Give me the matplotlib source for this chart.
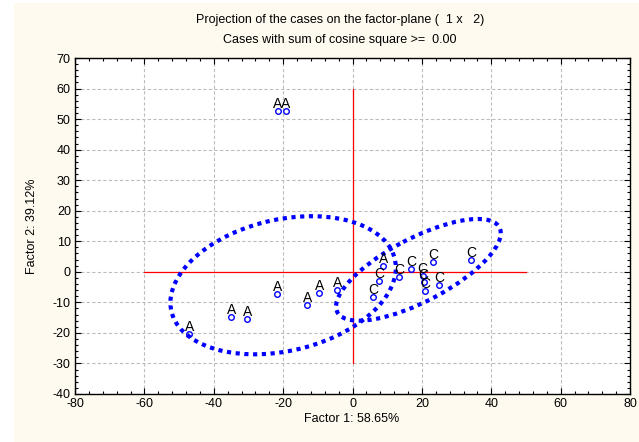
import numpy as np
import matplotlib
matplotlib.use("Agg")
import matplotlib.pyplot as plt
from matplotlib.patches import Ellipse, Rectangle
from matplotlib.ticker import MultipleLocator

plt.rcParams['font.family'] = ['Liberation Sans', 'DejaVu Sans']
plt.rcParams['axes.unicode_minus'] = False

# case coordinates on factor 1 / factor 2
a_x = [-21.5, -19.2, -47.0, -34.9, -30.3, -21.7, -13.0, -9.6, -4.4, 8.9]
a_y = [52.5, 52.5, -20.5, -14.7, -15.4, -7.4, -10.8, -6.8, -6.1, 1.9]
c_x = [7.7, 6.0, 13.5, 16.9, 23.2, 20.2, 20.5, 21.0, 24.9, 34.1]
c_y = [-2.9, -8.2, -1.6, 1.0, 3.1, -1.4, -3.4, -6.2, -4.2, 3.8]

# group ellipses: centre and covariance matrix
ell_a_center = (-20.0, -4.4)
ell_a_cov = [[1056.0, 185.0], [185.0, 511.0]]
ell_c_center = (19.0, 0.65)
ell_c_cov = [[564.0, 285.0], [285.0, 277.0]]

title1 = "Projection of the cases on the factor-plane (  1 x   2)"
title2 = "Cases with sum of cosine square >=  0.00"
xlabel = "Factor 1: 58.65%"
ylabel = "Factor 2: 39.12%"

W, H = 639, 442
fig = plt.figure(figsize=(W / 100, H / 100), dpi=100, facecolor='white')
fig.patches.append(Rectangle((14 / W, 0), 1 - 14 / W, 1 - 3 / H,
                             transform=fig.transFigure, facecolor='#FEFAEF',
                             edgecolor='none', zorder=-10))

ax = fig.add_axes([75 / W, 1 - 394 / H, (630 - 75) / W, (394 - 58) / H])
ax.set_facecolor('white')
ax.set_xlim(-80, 80)
ax.set_ylim(-40, 70)
ax.xaxis.set_major_locator(MultipleLocator(20))
ax.xaxis.set_minor_locator(MultipleLocator(4))
ax.yaxis.set_major_locator(MultipleLocator(10))
ax.yaxis.set_minor_locator(MultipleLocator(2))
ax.tick_params(which='both', direction='in', top=True, right=True,
               labelsize=9, width=0.8)
ax.tick_params(which='major', length=4, pad=3)
ax.tick_params(which='minor', length=2.5)
for s in ax.spines.values():
    s.set_linewidth(1.0)
ax.grid(True, which='major', color='#bdbdbd', linestyle=(0, (3, 2)),
        linewidth=0.8)
ax.set_axisbelow(True)

# origin cross
ax.plot([-60, 50], [0, 0], color='red', lw=0.9, zorder=2)
ax.plot([0, 0], [-30, 60], color='red', lw=0.9, zorder=2)


def add_ellipse(center, cov):
    vals, vecs = np.linalg.eigh(np.array(cov))
    order = vals.argsort()[::-1]
    vals, vecs = vals[order], vecs[:, order]
    angle = np.degrees(np.arctan2(vecs[1, 0], vecs[0, 0]))
    e = Ellipse(center, 2 * np.sqrt(vals[0]), 2 * np.sqrt(vals[1]), angle=angle,
                fill=False, edgecolor='#0000FF', linewidth=3,
                linestyle=(0, (1, 1.1)), zorder=3)
    ax.add_patch(e)


add_ellipse(ell_a_center, ell_a_cov)
add_ellipse(ell_c_center, ell_c_cov)

for xs, ys, lab in [(a_x, a_y, 'A'), (c_x, c_y, 'C')]:
    ax.plot(xs, ys, 'o', ms=4, mfc='none', mec='#0000FF', mew=1, zorder=4)
    for x, y in zip(xs, ys):
        ax.annotate(lab, (x, y), xytext=(0, 3), textcoords='offset pixels',
                    ha='center', va='baseline', fontsize=10, zorder=5)

fig.text(340 / W, 1 - 20 / H, title1, ha='center', va='center', fontsize=9)
fig.text(340 / W, 1 - 40 / H, title2, ha='center', va='center', fontsize=9)
fig.text(352 / W, 1 - 419 / H, xlabel, ha='center', va='center', fontsize=9)
fig.text(32 / W, 1 - 226 / H, ylabel, ha='center', va='center', fontsize=9,
         rotation=90)

fig.savefig('out.png', dpi=100, facecolor=fig.get_facecolor())
